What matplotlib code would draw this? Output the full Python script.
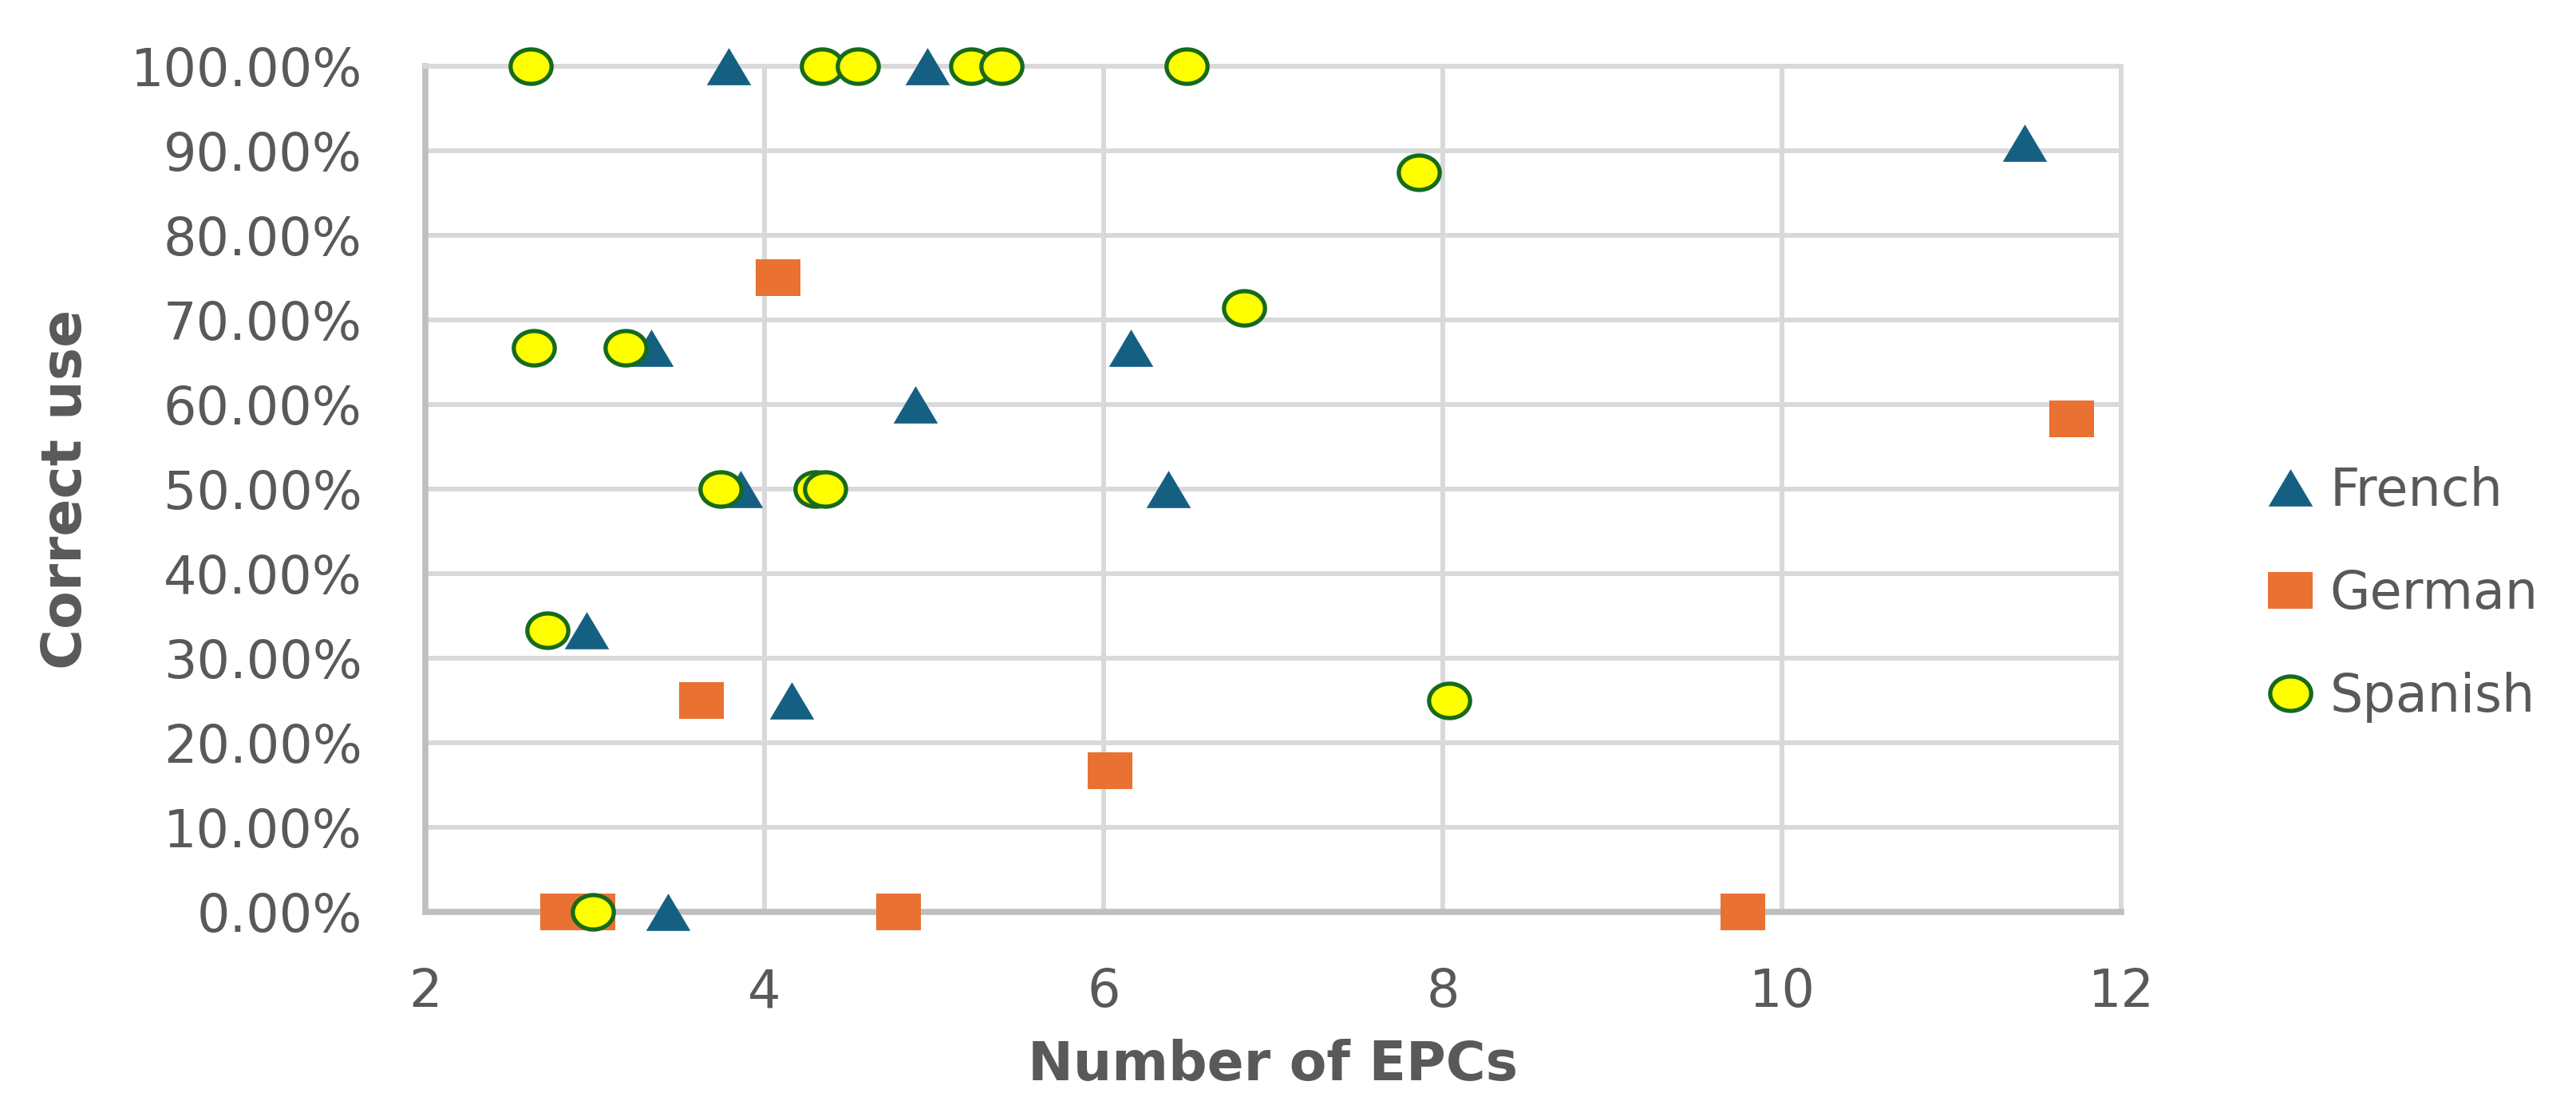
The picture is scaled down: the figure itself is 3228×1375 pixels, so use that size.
import matplotlib
matplotlib.use("Agg")
import matplotlib.pyplot as plt
from matplotlib.path import Path
from matplotlib.ticker import PercentFormatter
import numpy as np

# data: x = number of EPCs, y = correct use (%)
french_x = [3.79, 4.96, 11.43, 3.33, 6.16, 4.89, 3.86, 6.38, 2.95, 4.16, 3.43]
french_y = [100, 100, 90.91, 66.67, 66.67, 60, 50, 50, 33.33, 25, 0]

german_x = [4.08, 11.71, 3.63, 6.04, 2.81, 2.99, 4.79, 9.77]
german_y = [75, 58.33, 25, 16.67, 0, 0, 0, 0]

spanish_x = [2.62, 4.34, 4.55, 5.22, 5.40, 6.49, 7.86, 6.83, 2.64, 3.18,
             3.74, 4.30, 4.36, 2.72, 8.04, 2.99]
spanish_y = [100, 100, 100, 100, 100, 100, 87.5, 71.43, 66.67, 66.67,
             50, 50, 50, 33.33, 25, 0]

x_ticks = [2, 4, 6, 8, 10, 12]
y_ticks = list(range(0, 101, 10))

# markers are a bit wider than tall in the original
asp = 0.84
t = np.linspace(0, 2 * np.pi, 60)
ellipse = Path(np.column_stack([np.cos(t), asp * np.sin(t)]), closed=True)
rect = Path([(-1, -asp), (1, -asp), (1, asp), (-1, asp), (-1, -asp)], closed=True)
tri = Path([(-1, -asp), (1, -asp), (0, asp), (-1, -asp)], closed=True)

grey = '#595959'
fig = plt.figure(figsize=(32.28, 13.75), dpi=100)
ax = fig.add_axes([0.1651, 0.1687, 0.8234 - 0.1651, 0.9396 - 0.1687])

ax.plot(french_x, french_y, ls='none', marker=tri, ms=40, color='#156082',
        mec='#156082', mew=0, label='French', clip_on=False, zorder=3)
ax.plot(german_x, german_y, ls='none', marker=rect, ms=40, color='#E97132',
        mec='#E97132', mew=0, label='German', clip_on=False, zorder=3)
ax.plot(spanish_x, spanish_y, ls='none', marker=ellipse, ms=37, mfc='#FFFF00',
        mec='#176A1C', mew=3.8, label='Spanish', clip_on=False, zorder=3)

ax.set_xlim(2, 12)
ax.set_ylim(0, 100)
ax.set_xticks(x_ticks)
ax.set_yticks(y_ticks)
ax.yaxis.set_major_formatter(PercentFormatter(decimals=2))
ax.tick_params(length=0, labelsize=47, colors=grey)
ax.tick_params(axis='y', pad=57)
ax.tick_params(axis='x', pad=50)

ax.grid(color='#D9D9D9', lw=4.3, zorder=0)
ax.set_axisbelow(True)
for s in ['top', 'right']:
    ax.spines[s].set_color('#D9D9D9')
    ax.spines[s].set_linewidth(4.3)
for s in ['left', 'bottom']:
    ax.spines[s].set_color('#BFBFBF')
    ax.spines[s].set_linewidth(5.5)

ax.set_xlabel('Number of EPCs', fontsize=49, fontweight='bold', color=grey)
ax.xaxis.set_label_coords(0.5, -0.150)
ax.xaxis.label.set_va('top')
ax.set_ylabel('Correct use', fontsize=50, fontweight='bold', color=grey)
ax.yaxis.set_label_coords(-0.196, 0.5)

leg = fig.legend(loc='center left', bbox_to_anchor=(2841 / 3228, 1 - 745 / 1375),
                 frameon=False, fontsize=47, handlelength=0.9, handletextpad=0.3,
                 labelspacing=1.0, borderpad=0, borderaxespad=0)
for txt in leg.get_texts():
    txt.set_color(grey)

fig.savefig('out.png', dpi=100)
